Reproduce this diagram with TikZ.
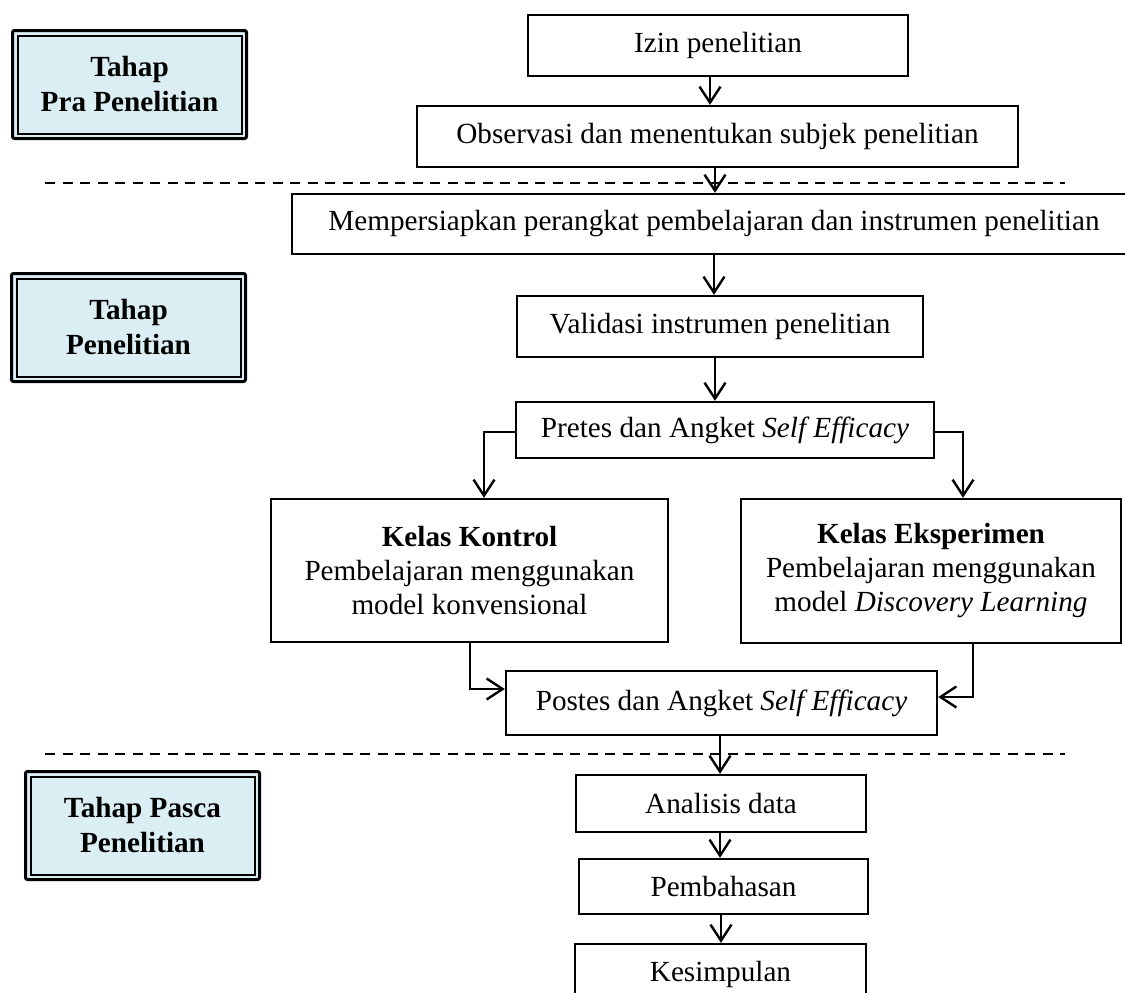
\documentclass[tikz,border=0pt]{standalone}
\usepackage{fontspec}
\setmainfont{Liberation Serif}
\usetikzlibrary{arrows.meta,calc}
\definecolor{lb}{HTML}{DAEEF3}
\begin{document}
\begin{tikzpicture}[x=1pt,y=-1pt,
  box/.style={draw, line width=2.4pt, inner sep=0pt, align=center, font=\fontsize{29.2}{34}\selectfont},
  tbox/.style={draw, line width=3pt, fill=lb, rounded corners=2pt, inner sep=0pt, align=center,
    minimum width=234pt, minimum height=108pt, font=\fontsize{29.2}{35}\selectfont\bfseries},
  inner/.style={line width=2pt},
  arr/.style={line width=2.4pt, -{Straight Barb[length=16pt,width=21pt]}},
  sep/.style={line width=2pt, dash pattern=on 10pt off 7.5pt}]
\useasboundingbox (0,0) rectangle (1125,993);
\clip (0,0) rectangle (1125,993);

% stage boxes
\node[tbox] (t1) at (129.5,84.5) {Tahap\\Pra Penelitian};
\node[tbox] (t2) at (128.5,327.5) {Tahap\\Penelitian};
\node[tbox] (t3) at (142.5,825.5) {Tahap Pasca\\Penelitian};
\foreach \n in {t1,t2,t3}
  \draw[inner] ([shift={(6.5,6.5)}]\n.north west) rectangle ([shift={(-6.5,-6.5)}]\n.south east);

% separators
\coordinate (d1a) at (45,183);  \coordinate (d1b) at (1065,183);
\coordinate (d2a) at (45,754);  \coordinate (d2b) at (1065,754);
\draw[sep] (d1a) -- (d1b);
\draw[sep] (d2a) -- (d2b);

% process boxes
\node[box, minimum width=380pt, minimum height=61pt] (izin) at (718,45.5) {Izin penelitian};
\node[box, minimum width=601pt, minimum height=61pt] (obs) at (717.5,136.5) {Observasi dan menentukan subjek penelitian};
\node[box, minimum width=844pt, minimum height=60pt] (mem) at (714,224) {Mempersiapkan perangkat pembelajaran dan instrumen penelitian};
\node[box, minimum width=406pt, minimum height=61pt] (val) at (720,326.5) {Validasi instrumen penelitian};
\node[box, minimum width=418pt, minimum height=56pt] (pre) at (725,430) {Pretes dan Angket \textit{Self Efficacy}};
\node[box, minimum width=397pt, minimum height=143pt] (kon) at (469.5,570.5) {\textbf{Kelas Kontrol}\\Pembelajaran menggunakan\\model konvensional};
\node[box, minimum width=380pt, minimum height=144pt] (eks) at (931,571) {\textbf{Kelas Eksperimen}\\Pembelajaran menggunakan\\model \textit{Discovery Learning}};
\node[box, minimum width=431pt, minimum height=64pt] (pos) at (721.5,703) {Postes dan Angket \textit{Self Efficacy}};
\node[box, minimum width=290pt, minimum height=57pt] (ana) at (721,803.5) {Analisis data};
\node[box, minimum width=289pt, minimum height=55pt] (pem) at (723.5,886.5) {Pembahasan};
\node[box, minimum width=291pt, minimum height=60pt] (kes) at (720.5,974) {Kesimpulan};

% connectors
\draw[arr] (710,0 |- izin.south) -- (710,0 |- obs.north);
\draw[arr] (715,0 |- obs.south) -- (715,0 |- mem.north);
\draw[arr] (714,0 |- mem.south) -- (714,0 |- val.north);
\draw[arr] (715,0 |- val.south) -- (715,0 |- pre.north);
\draw[arr] (pre.west |- 0,432) -| (484,0 |- kon.north);
\draw[arr] (pre.east |- 0,432) -| (963,0 |- eks.north);
\draw[arr] (470,0 |- kon.south) |- (pos.west |- 0,689);
\draw[arr] (973,0 |- eks.south) |- (pos.east |- 0,697);
\draw[arr] (720,0 |- pos.south) -- (720,0 |- ana.north);
\draw[arr] (720,0 |- ana.south) -- (720,0 |- pem.north);
\draw[arr] (721,0 |- pem.south) -- (721,0 |- kes.north);
\end{tikzpicture}
\end{document}
